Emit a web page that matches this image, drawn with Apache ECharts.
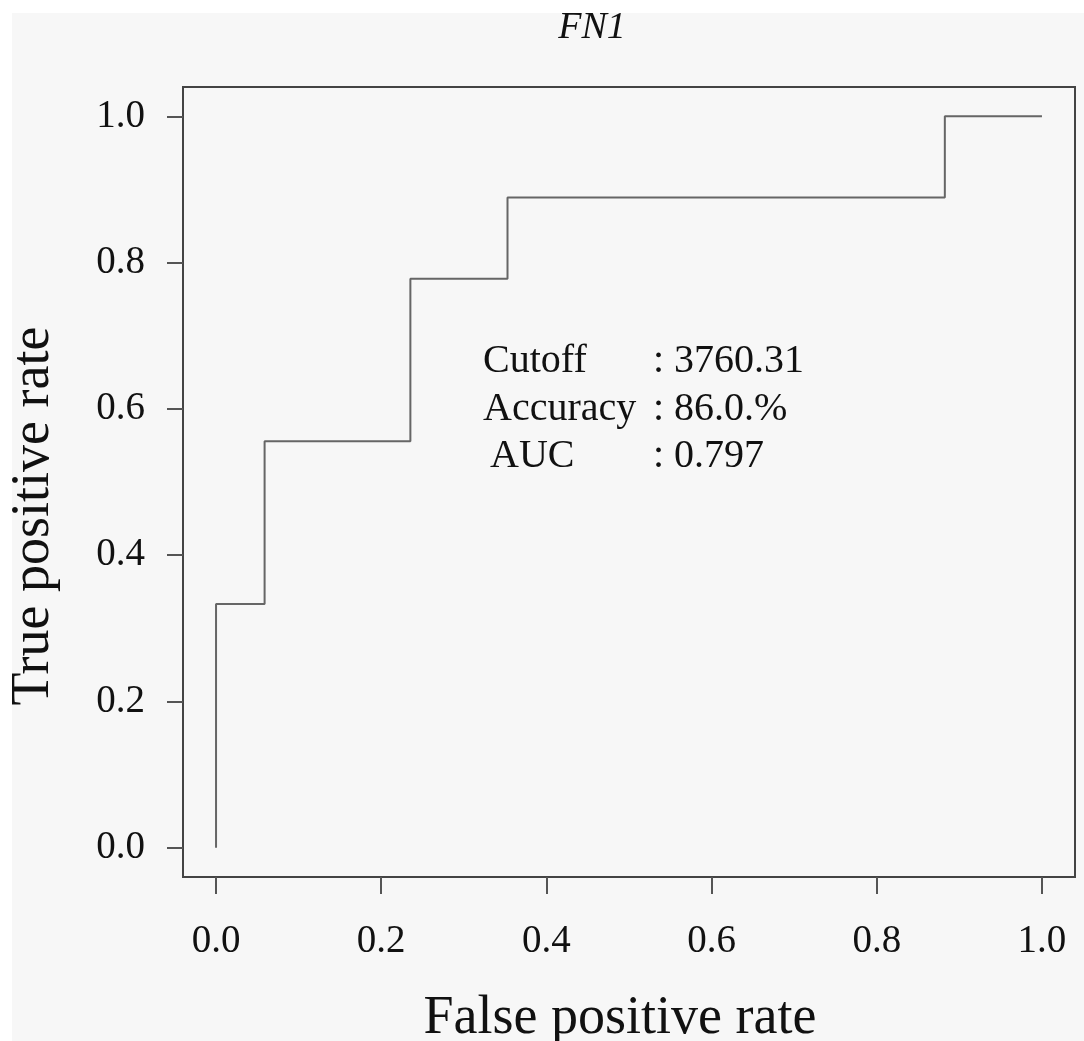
<!DOCTYPE html>
<html>
<head>
<meta charset="utf-8">
<script src="https://cdn.jsdelivr.net/npm/echarts@6/dist/echarts.min.js"></script>
<style>
  html, body { margin: 0; padding: 0; background: #ffffff; }
  #chart { width: 1084px; height: 1041px; }
</style>
</head>
<body>
<div id="chart"></div>
<script>
// ROC curve for FN1: corner points of the step curve
const fpr = [0, 0, 0.0588, 0.0588, 0.2353, 0.2353, 0.3529, 0.3529, 0.8824, 0.8824, 1.0];
const tpr = [0, 0.3333, 0.3333, 0.5556, 0.5556, 0.7778, 0.7778, 0.8889, 0.8889, 1.0, 1.0];
const tickValues = [0, 0.2, 0.4, 0.6, 0.8, 1.0];
const statNames = ['Cutoff', 'Accuracy', ' AUC'];
const statValues = [': 3760.31', ': 86.0.%', ': 0.797'];

const serif = '"Liberation Serif", "Times New Roman", serif';
const ink = '#111111';

const chart = echarts.init(document.getElementById('chart'), null, { renderer: 'canvas' });

// statistics block inside the plot
const statGraphics = [];
statNames.forEach((name, i) => {
  const y = 361.5 + i * 47.5;
  statGraphics.push({
    type: 'text', x: name.startsWith(' ') ? 490 : 483, y: y, z: 10,
    style: { text: name.trim(), font: '40px ' + serif, fill: ink, verticalAlign: 'middle' }
  });
  statGraphics.push({
    type: 'text', x: 653, y: y, z: 10,
    style: { text: statValues[i], font: '40px ' + serif, fill: ink, verticalAlign: 'middle' }
  });
});

chart.setOption({
  animation: false,
  backgroundColor: '#ffffff',
  title: {
    text: 'FN1', left: 592, top: 9, textAlign: 'center', padding: 0,
    textStyle: { fontFamily: serif, fontStyle: 'italic', fontWeight: 'normal', fontSize: 38, color: ink }
  },
  graphic: [
    { type: 'rect', shape: { x: 12, y: 13, width: 1072, height: 1028 }, style: { fill: '#f7f7f7' }, z: -10, silent: true }
  ].concat(statGraphics),
  grid: {
    left: 183, right: 9, top: 87, bottom: 164,
    outerBoundsMode: 'none', containLabel: false,
    show: true, borderColor: '#444444', borderWidth: 2, backgroundColor: 'transparent'
  },
  xAxis: {
    type: 'value', min: -0.04, max: 1.04,
    name: 'False positive rate', nameLocation: 'middle', nameGap: 115,
    nameTextStyle: { fontFamily: serif, fontSize: 54, color: ink, padding: [0, 18, 0, 0] },
    axisLine: { show: false, onZero: false },
    axisTick: { show: true, customValues: tickValues, length: 17, lineStyle: { color: '#555', width: 2 } },
    axisLabel: {
      customValues: tickValues, margin: 45,
      formatter: v => v.toFixed(1),
      fontFamily: serif, fontSize: 39, color: ink
    },
    splitLine: { show: false }
  },
  yAxis: {
    type: 'value', min: -0.04, max: 1.04,
    name: 'True positive rate', nameLocation: 'middle', nameGap: 122,
    nameTextStyle: { fontFamily: serif, fontSize: 54, color: ink, padding: [0, 68, 0, 0] },
    axisLine: { show: false, onZero: false },
    axisTick: { show: true, customValues: tickValues, length: 16, lineStyle: { color: '#555', width: 2 } },
    axisLabel: {
      customValues: tickValues, margin: 38,
      formatter: v => v.toFixed(1),
      fontFamily: serif, fontSize: 39, color: ink
    },
    splitLine: { show: false }
  },
  series: [{
    type: 'line',
    data: fpr.map((x, i) => [x, tpr[i]]),
    showSymbol: false,
    lineStyle: { color: '#666666', width: 2 }
  }]
});
</script>
</body>
</html>
